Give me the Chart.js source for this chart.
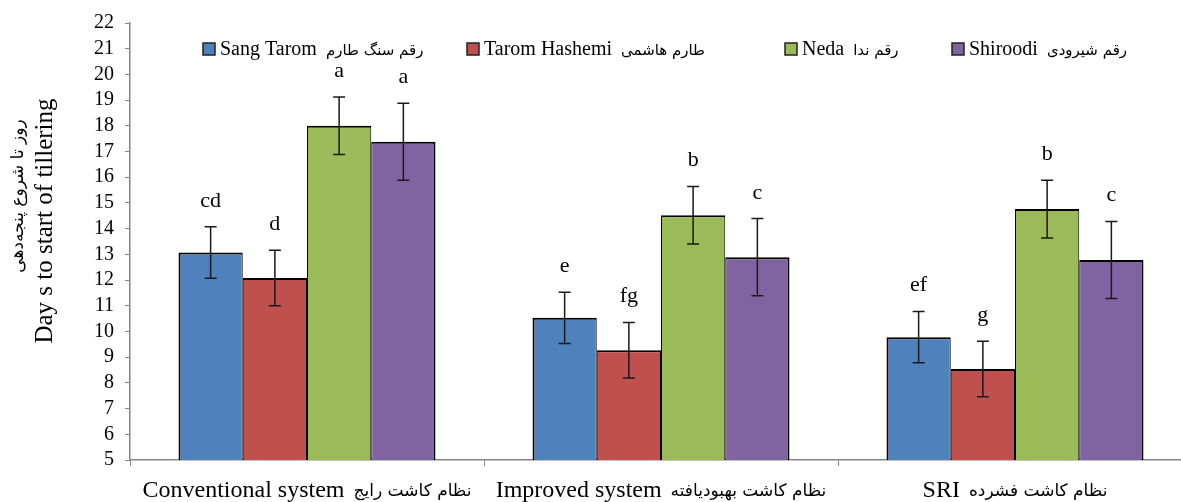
<!DOCTYPE html>
<html>
<head>
<meta charset="utf-8">
<script src="https://cdn.jsdelivr.net/npm/chart.js@4.4.1/dist/chart.umd.min.js"></script>
<style>
  html, body { margin: 0; padding: 0; background: #fff; overflow: hidden; }
  #wrap { width: 1200px; height: 502px; }
</style>
</head>
<body>
<div id="wrap"><canvas id="c" width="1200" height="502"></canvas></div>
<script>
// Cultivation systems (x categories), English and Persian parts of each label
const systemsEn = ['Conventional system', 'Improved system', 'SRI'];
const systemsFa = ['نظام کاشت رایج', 'نظام کاشت بهبودیافته', 'نظام کاشت فشرده'];

// Rice cultivars (series)
const cultivarsEn = ['Sang Tarom', 'Tarom Hashemi', 'Neda', 'Shiroodi'];
const cultivarsFa = ['رقم سنگ طارم', 'طارم هاشمی', 'رقم ندا', 'رقم شیرودی'];

// Days to start of tillering, per cultivar across the three systems
const sangTarom    = [13.07, 10.53, 9.78];
const taromHashemi = [12.08, 9.27, 8.54];
const neda         = [18.0, 14.52, 14.76];
const shiroodi     = [17.38, 12.89, 12.78];

// Error bar half-lengths
const sangTaromErr    = [1.0, 1.0, 1.0];
const taromHashemiErr = [1.08, 1.08, 1.08];
const nedaErr         = [1.12, 1.12, 1.12];
const shiroodiErr     = [1.5, 1.5, 1.5];

// Mean-comparison letters
const sangTaromLetters    = ['cd', 'e', 'ef'];
const taromHashemiLetters = ['d', 'fg', 'g'];
const nedaLetters         = ['a', 'b', 'b'];
const shiroodiLetters     = ['a', 'c', 'c'];

// Y axis range and step
const yMin = 5, yMax = 22, yStep = 1;

// Axis titles
const yTitleEn = 'Day s to start of tillering';
const yTitleFa = 'روز تا شروع پنجه\u200cدهی';

const colors = ['#4F81BD', '#C0504D', '#9BBB59', '#8064A2'];
const values = [sangTarom, taromHashemi, neda, shiroodi];
const errors = [sangTaromErr, taromHashemiErr, nedaErr, shiroodiErr];
const letters = [sangTaromLetters, taromHashemiLetters, nedaLetters, shiroodiLetters];

const SERIF = "'Liberation Serif', 'Times New Roman', serif";
const FA = "'DejaVu Sans', sans-serif";
const AXIS_GRAY = '#858585';

const datasets = values.map((v, i) => ({
  label: cultivarsEn[i],
  data: v,
  backgroundColor: colors[i],
  borderColor: '#000',
  borderWidth: { top: 2, bottom: 0, left: i === 0 ? 2 : 1, right: i === values.length - 1 ? 2 : 1 },
  borderSkipped: false,
  categoryPercentage: 0.726,
  barPercentage: 1.0
}));

// Error bars with caps and the letters above them
const errorBarPlugin = {
  id: 'errorBars',
  afterDatasetsDraw(chart) {
    const ctx = chart.ctx;
    const ys = chart.scales.y;
    ctx.save();
    chart.data.datasets.forEach((ds, i) => {
      const meta = chart.getDatasetMeta(i);
      meta.data.forEach((bar, j) => {
        const v = ds.data[j], e = errors[i][j];
        const top = ys.getPixelForValue(v + e);
        const bot = ys.getPixelForValue(v - e);
        const x = bar.x;
        ctx.strokeStyle = '#1a1a1a';
        ctx.lineWidth = 1.5;
        ctx.beginPath();
        ctx.moveTo(x, top); ctx.lineTo(x, bot);
        ctx.moveTo(x - 6, top); ctx.lineTo(x + 6, top);
        ctx.moveTo(x - 6, bot); ctx.lineTo(x + 6, bot);
        ctx.stroke();
        ctx.fillStyle = '#000';
        ctx.font = '22px ' + SERIF;
        ctx.textAlign = 'center';
        ctx.textBaseline = 'alphabetic';
        ctx.fillText(letters[i][j], x, top - 20);
      });
    });
    ctx.restore();
  }
};

// Legend inside the plot, category labels and the rotated y title
const textPlugin = {
  id: 'texts',
  afterDraw(chart) {
    const ctx = chart.ctx;
    const xs = chart.scales.x;
    ctx.save();
    ctx.fillStyle = '#000';
    ctx.textBaseline = 'alphabetic';
    ctx.textAlign = 'left';

    // category labels: English then Persian, centred under each group
    systemsEn.forEach((en, i) => {
      const cx = xs.getPixelForValue(i);
      ctx.font = '24px ' + SERIF;
      const wEn = ctx.measureText(en).width;
      ctx.font = '17px ' + FA;
      const wFa = ctx.measureText(systemsFa[i]).width;
      const gap = 9;
      const start = cx - (wEn + gap + wFa) / 2;
      ctx.font = '24px ' + SERIF;
      ctx.fillText(en, start, 497);
      ctx.font = '17px ' + FA;
      ctx.fillText(systemsFa[i], start + wEn + gap, 496);
    });

    // legend
    const legendBoxX = [203, 467, 785, 952];
    chart.data.datasets.forEach((ds, i) => {
      const bx = legendBoxX[i];
      ctx.fillStyle = ds.backgroundColor;
      ctx.fillRect(bx, 43, 12, 12);
      ctx.strokeStyle = '#222';
      ctx.lineWidth = 1.5;
      ctx.strokeRect(bx, 43, 12, 12);
      ctx.fillStyle = '#000';
      ctx.font = '20px ' + SERIF;
      ctx.fillText(cultivarsEn[i], bx + 17, 55);
      const w = ctx.measureText(cultivarsEn[i]).width;
      ctx.font = '15px ' + FA;
      ctx.fillText(cultivarsFa[i], bx + 17 + w + 9, 55);
    });

    // y title, two rotated lines
    ctx.textAlign = 'center';
    ctx.textBaseline = 'middle';
    ctx.save();
    ctx.translate(45, 221);
    ctx.rotate(-Math.PI / 2);
    ctx.font = '25px ' + SERIF;
    ctx.fillText(yTitleEn, 0, 0);
    ctx.restore();
    ctx.save();
    ctx.translate(19, 196);
    ctx.rotate(-Math.PI / 2);
    ctx.font = '17px ' + FA;
    ctx.fillText(yTitleFa, 0, 0);
    ctx.restore();
    ctx.restore();
  }
};

new Chart(document.getElementById('c'), {
  type: 'bar',
  data: { labels: systemsEn, datasets },
  options: {
    responsive: false,
    animation: false,
    layout: { padding: { top: 19, right: 8, left: 0, bottom: 0 } },
    plugins: { legend: { display: false }, tooltip: { enabled: false } },
    scales: {
      x: {
        offset: true,
        grid: { display: true, drawOnChartArea: false, drawTicks: true, tickLength: 6, color: AXIS_GRAY, offset: true },
        border: { display: true, color: AXIS_GRAY, width: 1.5 },
        ticks: { callback: () => '' },
        afterFit: s => { s.height = 42; }
      },
      y: {
        min: yMin, max: yMax,
        grid: { display: true, drawOnChartArea: false, drawTicks: true, tickLength: 5, color: AXIS_GRAY },
        border: { display: true, color: AXIS_GRAY, width: 1.5 },
        ticks: { stepSize: yStep, autoSkip: false, color: '#000', padding: 11, font: { family: SERIF, size: 20 } },
        afterFit: s => { s.width = 130; }
      }
    }
  },
  plugins: [errorBarPlugin, textPlugin]
});
</script>
</body>
</html>
